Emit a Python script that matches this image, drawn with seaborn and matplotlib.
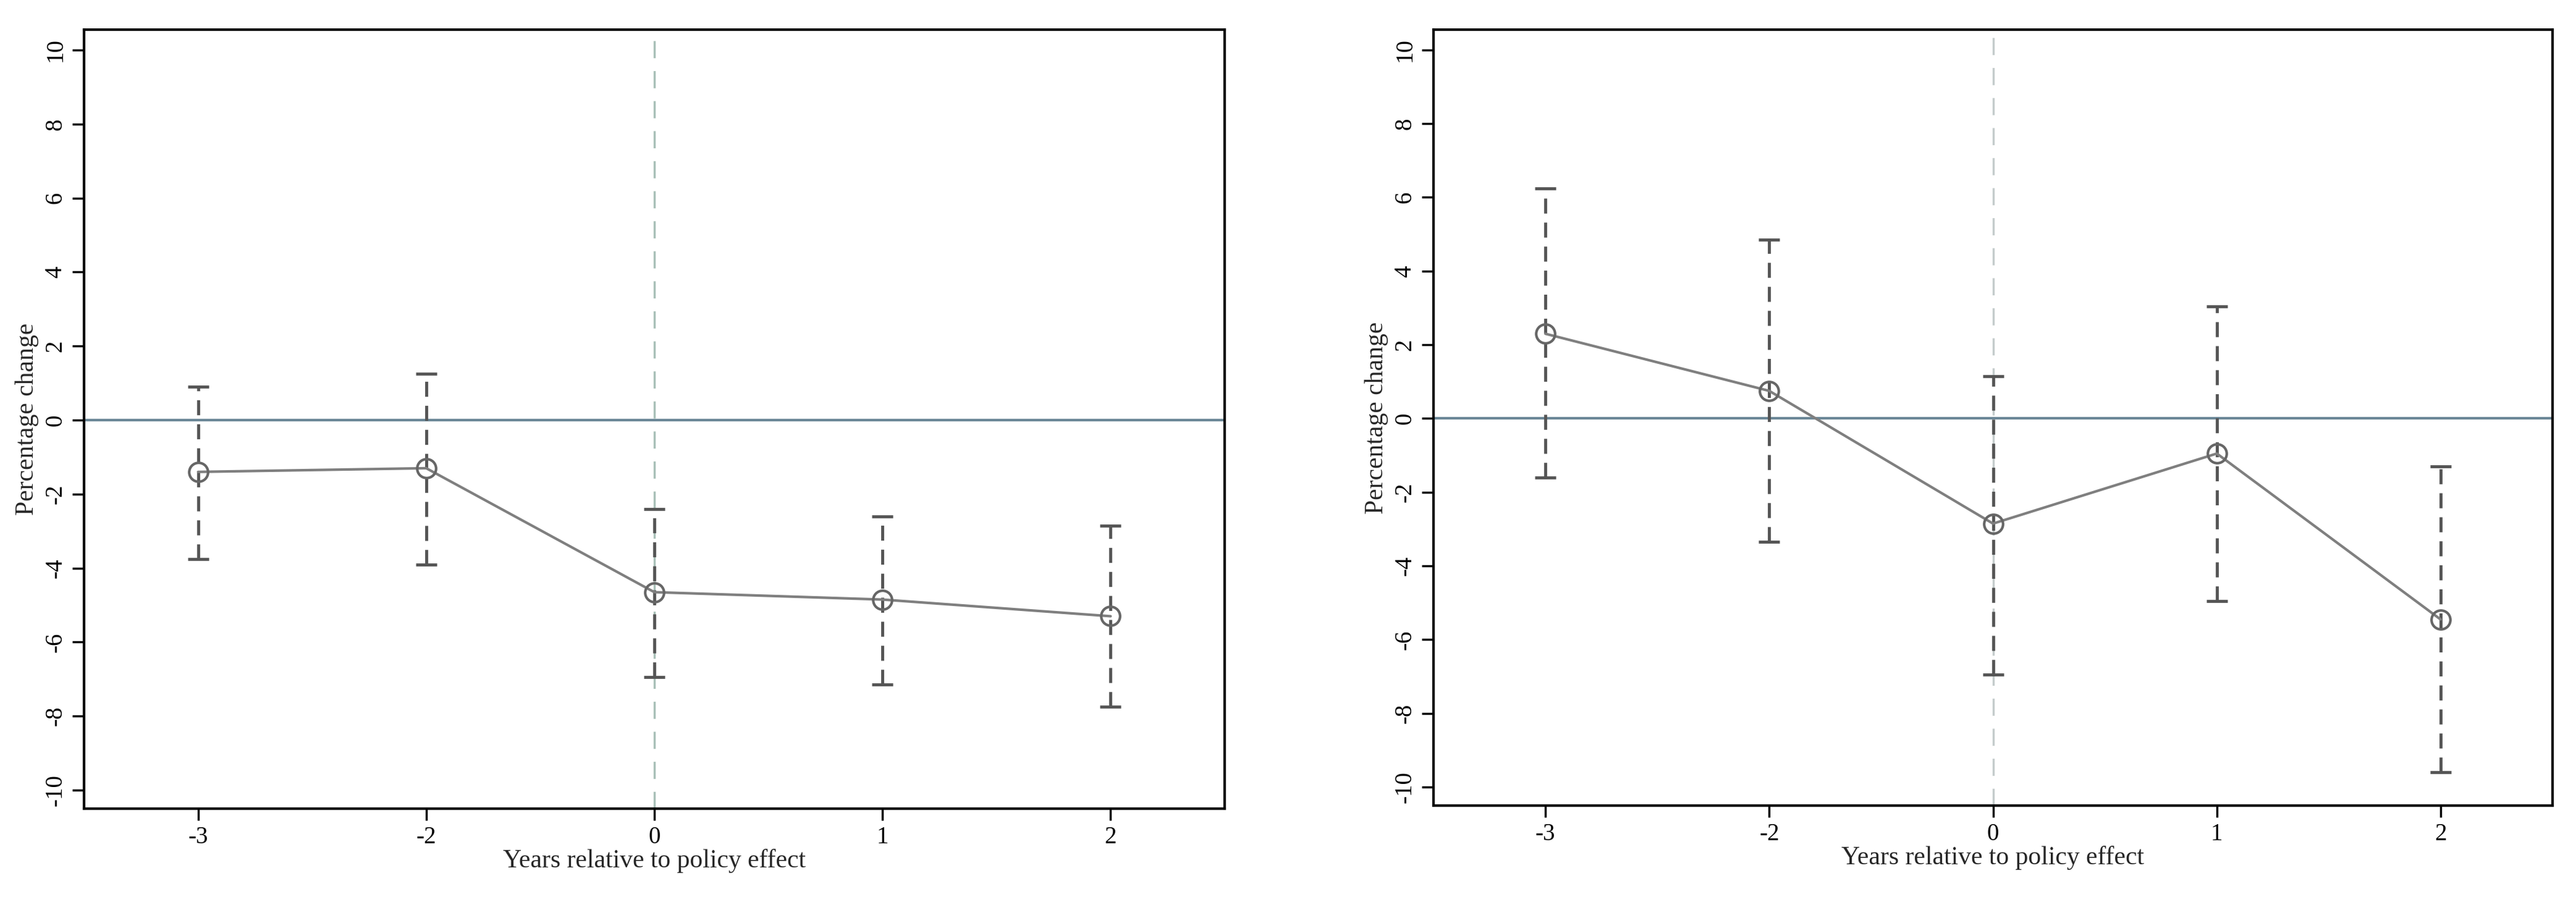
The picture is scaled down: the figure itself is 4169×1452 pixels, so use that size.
import matplotlib
matplotlib.use("Agg")
import matplotlib.pyplot as plt
import seaborn as sns
import pandas as pd

sns.set_style("white")
plt.rcParams['font.family'] = ['Liberation Serif', 'DejaVu Serif']

years = ["-3", "-2", "0", "1", "2"]
left_est = [-1.4, -1.3, -4.65, -4.85, -5.3]
left_lo = [-3.75, -3.9, -6.95, -7.15, -7.75]
left_hi = [0.9, 1.25, -2.4, -2.6, -2.85]
right_est = [2.3, 0.75, -2.85, -0.95, -5.45]
right_lo = [-1.6, -3.35, -6.95, -4.95, -9.6]
right_hi = [6.25, 4.85, 1.15, 3.05, -1.3]
yticks = [-10, -8, -6, -4, -2, 0, 2, 4, 6, 8, 10]

fig = plt.figure(figsize=(41.69, 14.52), dpi=100)
axL = fig.add_axes([136/4169, 1-1309/1452, (1982-136)/4169, (1309-48)/1452])
axR = fig.add_axes([2320/4169, 1-1304/1452, (4131-2320)/4169, (1304-48)/1452])

for ax, est, lo, hi, vcol in [(axL, left_est, left_lo, left_hi, '#a9c0b8'),
                              (axR, right_est, right_lo, right_hi, '#c4cccc')]:
    df = pd.DataFrame({"year": years, "est": est})
    ax.axhline(0, color='#6b8797', lw=3, zorder=1)
    ax.axvline(2, color=vcol, lw=2.5, ls=(0, (8, 6)), zorder=1)
    for i in range(len(years)):
        ax.errorbar(i, est[i], yerr=[[est[i]-lo[i]], [hi[i]-est[i]]], fmt='none',
                    ecolor='#555555', elinewidth=3.5, capsize=12, capthick=3.5,
                    ls='none', zorder=2).lines[2][0].set_linestyle((0, (5, 3)))
    sns.lineplot(data=df, x="year", y="est", ax=ax, color='#7f7f7f', lw=3,
                 marker='o', markersize=22, markerfacecolor='none',
                 markeredgecolor='#666666', markeredgewidth=3, sort=False, zorder=3)
    ax.set_xlim(-0.5, 4.5)
    ax.set_ylim(-10.5, 10.55)
    ax.set_yticks(yticks)
    ax.set_yticklabels([str(t) for t in yticks], rotation=90, va='center')
    ax.set_xlabel("Years relative to policy effect", fontsize=30, labelpad=0)
    ax.set_ylabel("Percentage change", fontsize=30, labelpad=6)
    ax.tick_params(axis='both', labelsize=28, length=14, width=2.5, direction='out',
                   left=True, bottom=True, colors='black', pad=6)
    for s in ax.spines.values():
        s.set_linewidth(3)
        s.set_color('black')

fig.savefig("out.png", dpi=100)
